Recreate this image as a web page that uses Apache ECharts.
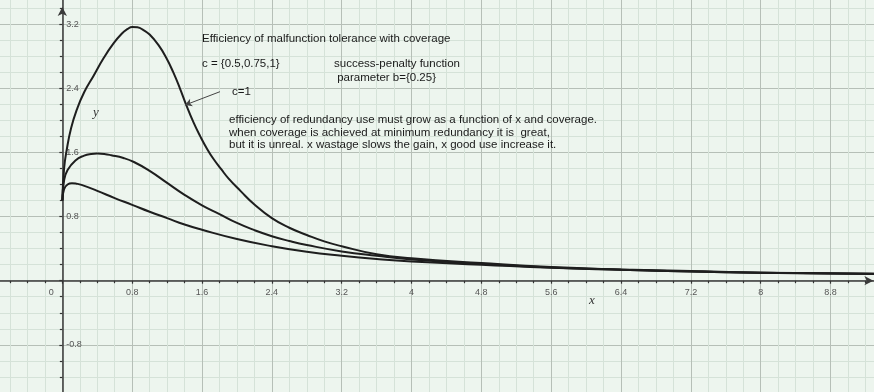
<!DOCTYPE html>
<html><head><meta charset="utf-8">
<script src="https://cdn.jsdelivr.net/npm/echarts@6/dist/echarts.min.js"></script>
<style>html,body{margin:0;padding:0;background:#edf5ee}#c{width:874px;height:392px}</style>
</head><body><div id="c"></div>
<script>
// ---- data ----
const seriesNames = ['c=0.5', 'c=0.75', 'c=1'];
const curveC050 = [[0,1.0],[0.02,1.14],[0.06,1.2],[0.11,1.215],[0.16,1.21],[0.22,1.195],[0.4,1.12],[0.6,1.03],[0.8,0.946],[1.0,0.86],[1.2,0.78],[1.4,0.70],[1.6,0.635],[2.0,0.52],[2.4,0.43],[2.8,0.36],[3.2,0.31],[3.6,0.27],[4.0,0.24],[4.8,0.2],[5.6,0.16],[6.4,0.135],[7.2,0.114],[8.0,0.099],[8.8,0.09],[9.3,0.084]];
const curveC075 = [[0,1.0],[0.02,1.25],[0.06,1.38],[0.15,1.5],[0.25,1.56],[0.33,1.58],[0.4,1.585],[0.48,1.58],[0.56,1.565],[0.7,1.53],[0.82,1.48],[1.0,1.37],[1.2,1.22],[1.4,1.07],[1.6,0.94],[1.8,0.83],[2.0,0.72],[2.2,0.63],[2.4,0.555],[2.6,0.495],[2.8,0.445],[3.2,0.365],[3.6,0.31],[4.0,0.265],[4.8,0.21],[5.6,0.165],[6.4,0.137],[7.2,0.115],[8.0,0.1],[8.8,0.091],[9.3,0.085]];
const curveC100 = [[0,1.0],[0.02,1.4],[0.05,1.63],[0.1,1.9],[0.165,2.13],[0.25,2.35],[0.36,2.56],[0.47,2.77],[0.58,2.95],[0.68,3.08],[0.75,3.14],[0.8,3.165],[0.86,3.16],[0.93,3.125],[1.0,3.07],[1.1,2.94],[1.19,2.78],[1.27,2.6],[1.35,2.39],[1.42,2.19],[1.5,1.98],[1.58,1.80],[1.66,1.64],[1.73,1.52],[1.82,1.39],[1.9,1.28],[2.04,1.12],[2.2,0.95],[2.4,0.78],[2.6,0.66],[2.8,0.57],[3.0,0.49],[3.2,0.43],[3.6,0.33],[4.0,0.28],[4.8,0.22],[5.6,0.17],[6.4,0.14],[7.2,0.12],[8.0,0.10],[8.8,0.092],[9.3,0.086]];
const xTickLabels = ['0','0.8','1.6','2.4','3.2','4','4.8','5.6','6.4','7.2','8','8.8'];
const yTickLabels = ['-0.8','0.8','1.6','2.4','3.2'];
const arrowFrom = [1.806, 2.357];
const arrowTo = [1.405, 2.19];
const annotations = [
  'Efficiency of malfunction tolerance with coverage',
  'c = {0.5,0.75,1}',
  'success-penalty function',
  ' parameter b={0.25}',
  'c=1',
  'efficiency of redundancy use must grow as a function of x and coverage.',
  'when coverage is achieved at minimum redundancy it is  great,',
  'but it is unreal. x wastage slows the gain, x good use increase it.'
];

// ---- layout ----
const W = 874, H = 392;
const X_MIN = -0.8, X_MAX = 9.6, Y_MIN = -1.6, Y_MAX = 3.6;
const G = {left: -7.5, right: -26.4, top: -8, bottom: -17};
const gw = W - G.left - G.right, gh = H - G.top - G.bottom;
const xAxisOffset = -((0 - Y_MIN) / (Y_MAX - Y_MIN)) * gh; // move x-axis up to y=0
const yAxisOffset = -((0 - X_MIN) / (X_MAX - X_MIN)) * gw; // move y-axis right to x=0

const fmt = v => String(Math.round(v * 10) / 10);
const chart = echarts.init(document.getElementById('c'));
const textFont = '11.5px "Liberation Sans", Arial, sans-serif';
const txt = (s, l, t) => ({type:'text', left:l, top:t, z:10, style:{text:s, font:textFont, fill:'#1a1a1a'}});
const axisCommon = {
  axisTick: {show: true, length: 3, lineStyle: {color: '#333', width: 1.2}},
  minorTick: {show: true, splitNumber: 4, length: 2.5, lineStyle: {color: '#333', width: 1.2}},
  splitLine: {show: true, lineStyle: {color: '#b6bfb7', width: 1}},
  minorSplitLine: {show: true, lineStyle: {color: '#d5e2d8', width: 1}}
};

const option = {
  backgroundColor: '#edf5ee',
  animation: false,
  grid: Object.assign({containLabel: false, outerBoundsMode: 'none'}, G),
  xAxis: Object.assign({
    type: 'value', position: 'bottom', min: X_MIN, max: X_MAX, interval: 0.8, offset: xAxisOffset,
    axisLine: {onZero: false, lineStyle: {color: '#3a3a3a', width: 1.5}, symbol: ['none', 'arrow'], symbolSize: [7, 9], symbolOffset: [0, -27]},
    axisLabel: {
      margin: 7, fontSize: 9, color: '#555', fontFamily: 'Liberation Sans',
      formatter: v => { const s = fmt(v); if (s === '0') return '{z|0}'; return xTickLabels.includes(s) ? s : ''; },
      rich: {z: {padding: [0, 22, 0, 0], fontSize: 9, color: '#555', fontFamily: 'Liberation Sans'}}
    }
  }, axisCommon),
  yAxis: Object.assign({
    type: 'value', position: 'left', min: Y_MIN, max: Y_MAX, interval: 0.8, offset: yAxisOffset,
    axisLine: {onZero: false, lineStyle: {color: '#3a3a3a', width: 1.5}, symbol: ['none', 'arrow'], symbolSize: [7, 9], symbolOffset: [0, -15]},
    axisLabel: {
      inside: true, margin: 4, fontSize: 9, color: '#555', fontFamily: 'Liberation Sans',
      formatter: v => { const s = fmt(v); return yTickLabels.includes(s) ? s : ''; }
    }
  }, axisCommon),
  series: [curveC050, curveC075, curveC100].map((d, i) => ({
    name: seriesNames[i], type: 'line', data: d, smooth: 0.5,
    showSymbol: false, lineStyle: {color: '#1e1e1e', width: 2}, z: 3,
    markLine: i === 2 ? {
      silent: true, symbol: ['none', 'arrow'], symbolSize: [6, 7],
      lineStyle: {color: '#444', width: 1, type: 'solid'}, label: {show: false},
      data: [[{coord: arrowFrom}, {coord: arrowTo}]]
    } : undefined
  })),
  graphic: [
    txt(annotations[0], 202, 33),
    txt(annotations[1], 202, 58),
    txt(annotations[2], 334, 58),
    txt(annotations[3], 334, 72),
    txt(annotations[4], 232, 86),
    txt(annotations[5], 229, 113.5),
    txt(annotations[6], 229, 126.5),
    txt(annotations[7], 229, 139),
    {type:'text', left:93, top:106, z:10, style:{text:'y', font:'italic 13px "Liberation Serif", serif', fill:'#333'}},
    {type:'text', left:589, top:294, z:10, style:{text:'x', font:'italic 13px "Liberation Serif", serif', fill:'#333'}}
  ]
};
chart.setOption(option);
</script></body></html>
